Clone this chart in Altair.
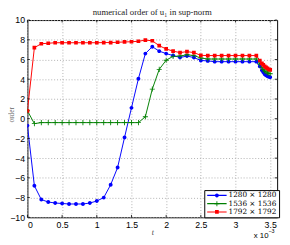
import altair as alt
import pandas as pd

# time in units of 1e-3
t_vals = [0.0, 0.1, 0.2, 0.3, 0.4, 0.5, 0.6, 0.7, 0.8, 0.9, 1.0, 1.1, 1.2, 1.3, 1.4,
          1.5, 1.6, 1.7, 1.8, 1.9, 2.0, 2.1, 2.2, 2.3, 2.4, 2.5, 2.6, 2.7, 2.8, 2.9,
          3.0, 3.1, 3.2, 3.3, 3.35, 3.38, 3.40, 3.42, 3.44, 3.46, 3.48, 3.50]

order_1280 = [-0.7, -6.8, -8.2, -8.45, -8.55, -8.6, -8.65, -8.65, -8.65, -8.55, -8.35,
              -8.0, -6.7, -4.95, -1.9, 1.1, 4.05, 6.6, 7.3, 6.85, 6.6, 6.4, 6.2, 6.35,
              6.2, 5.9, 5.86, 5.78, 5.78, 5.78, 5.78, 5.78, 5.78, 5.78,
              5.3, 4.9, 4.7, 4.5, 4.4, 4.3, 4.25, 4.2]
order_1536 = [0.8, -0.5, -0.4, -0.4, -0.4, -0.4, -0.4, -0.4, -0.4, -0.4, -0.4, -0.4,
              -0.4, -0.4, -0.4, -0.4, -0.4, 0.2, 3.0, 5.0, 5.93, 6.32, 6.35, 6.48,
              6.4, 6.15, 6.05, 6.05, 6.05, 6.05, 6.05, 6.05, 6.05, 6.05,
              5.55, 5.2, 5.0, 4.85, 4.75, 4.65, 4.6, 4.55]
order_1792 = [0.8, 7.2, 7.6, 7.65, 7.7, 7.7, 7.7, 7.7, 7.7, 7.7, 7.7, 7.72, 7.72,
              7.75, 7.78, 7.8, 7.85, 7.97, 7.9, 7.4, 7.07, 6.85, 6.7, 6.8, 6.7,
              6.42, 6.4, 6.4, 6.4, 6.4, 6.4, 6.4, 6.4, 6.4,
              5.9, 5.6, 5.45, 5.3, 5.2, 5.1, 5.0, 4.95]

series_names = ["1280 × 1280", "1536 × 1536", "1792 × 1792"]
series_colors = ["#0000ff", "#008000", "#ff0000"]
marker_paths = [
    "M0.2,0A0.2,0.2,0,1,1,-0.2,0A0.2,0.2,0,1,1,0.2,0Z",
    "M-0.26,-0.045H0.26V0.045H-0.26Z M-0.045,-0.26H0.045V0.26H-0.045Z",
    "M-0.19,-0.19H0.19V0.19H-0.19Z",
]
x_ticks = [0, 0.5, 1, 1.5, 2, 2.5, 3, 3.5]
y_ticks = [-10, -8, -6, -4, -2, 0, 2, 4, 6, 8, 10]

rows = []
for name, vals in zip(series_names, [order_1280, order_1536, order_1792]):
    for tv, ov in zip(t_vals, vals):
        rows.append({"t": tv, "order": ov, "series": name, "series_l": name})
df = pd.DataFrame(rows)

xscale = alt.Scale(domain=[0, 3.6], nice=False, zero=False)
yscale = alt.Scale(domain=[-10, 10], nice=False)

xaxis = alt.Axis(values=x_ticks, format="~r", title="t", grid=True,
                 gridDash=[1, 2], gridColor="#b0b0b0", gridWidth=1,
                 domain=False, ticks=False, labelPadding=3,
                 labelFont="Liberation Sans", labelFontSize=9,
                 labelColor="#000", titleFont="Liberation Serif",
                 titleFontStyle="italic", titleFontWeight="normal",
                 titleFontSize=8, titleColor="#444",
                 titleY=18, titleBaseline="alphabetic")
yaxis = alt.Axis(values=y_ticks, format="~r", title="order", grid=True,
                 gridDash=[1, 2], gridColor="#b0b0b0", gridWidth=1,
                 domain=False, ticks=False, labelPadding=3,
                 labelFont="Liberation Sans", labelFontSize=9,
                 labelColor="#000", titleFont="Liberation Serif",
                 titleFontWeight="normal", titleFontSize=7.5,
                 titleColor="#666", titleX=-12, titleY=97,
                 titleAngle=270, titleBaseline="bottom",
                 titleAlign="center")
xenc = alt.X("t:Q", scale=xscale, axis=xaxis)
yenc = alt.Y("order:Q", scale=yscale, axis=yaxis)

leg_common = dict(orient="none", legendX=182, legendY=175, title=None,
                  symbolSize=400, symbolStrokeWidth=1.2,
                  labelFont="DejaVu Serif", labelFontSize=7.5, labelOffset=1,
                  clipHeight=7, rowPadding=0.5, padding=2, labelLimit=0)
leg_lines = alt.Legend(symbolType="stroke", strokeColor="black", fillColor="white",
                       labelColor="black", zindex=1, **leg_common)
leg_marks = alt.Legend(labelOpacity=0, zindex=2, **leg_common)

lines = alt.Chart(df).mark_line(strokeWidth=1, clip=True).encode(
    x=xenc, y=yenc,
    stroke=alt.Stroke("series_l:N",
                      scale=alt.Scale(range=series_colors),
                      legend=leg_lines),
)
points = alt.Chart(df).mark_point(filled=True, size=400, opacity=1, clip=True).encode(
    x=xenc, y=yenc,
    color=alt.Color("series:N",
                    scale=alt.Scale(domain=series_names, range=series_colors),
                    legend=leg_marks),
    shape=alt.Shape("series:N",
                    scale=alt.Scale(domain=series_names, range=marker_paths),
                    legend=leg_marks),
)

# inward tick marks on all four sides of the box
xt_df = pd.DataFrame({"t": x_ticks})
yt_df = pd.DataFrame({"order": y_ticks})
tick_style = dict(color="black", strokeWidth=0.8)
tb = alt.Chart(xt_df).mark_rule(**tick_style).encode(
    x=xenc, y=alt.value(203), y2=alt.value(200.5))
tt = alt.Chart(xt_df).mark_rule(**tick_style).encode(
    x=xenc, y=alt.value(0), y2=alt.value(2.5))
tl = alt.Chart(yt_df).mark_rule(**tick_style).encode(
    y=yenc, x=alt.value(0), x2=alt.value(2.5))
tr = alt.Chart(yt_df).mark_rule(**tick_style).encode(
    y=yenc, x=alt.value(257), x2=alt.value(254.5))

exp_base = alt.Chart(pd.DataFrame({"s": ["x 10"]})).mark_text(
    font="Liberation Sans", fontSize=8, align="left", baseline="alphabetic",
    color="#000").encode(x=alt.value(233), y=alt.value(224.5), text="s:N")
exp_sup = alt.Chart(pd.DataFrame({"s": ["−3"]})).mark_text(
    font="Liberation Sans", fontSize=5.5, align="left", baseline="alphabetic",
    color="#000").encode(x=alt.value(248), y=alt.value(219.5), text="s:N")

chart = alt.layer(lines, points, tb, tt, tl, tr, exp_base, exp_sup).properties(
    width=257, height=203,
    title=alt.TitleParams("numerical order of u₁ in sup-norm",
                          font="Liberation Serif", fontSize=9,
                          fontWeight="normal", color="#222", offset=-1,
                          anchor="middle"),
    autosize=alt.AutoSizeParams(type="none"),
    padding={"left": 20, "top": 9, "right": 5, "bottom": 22},
).configure_view(stroke="black", strokeWidth=1)

chart.save("out.html", embed_options={"renderer": "svg", "actions": False})
